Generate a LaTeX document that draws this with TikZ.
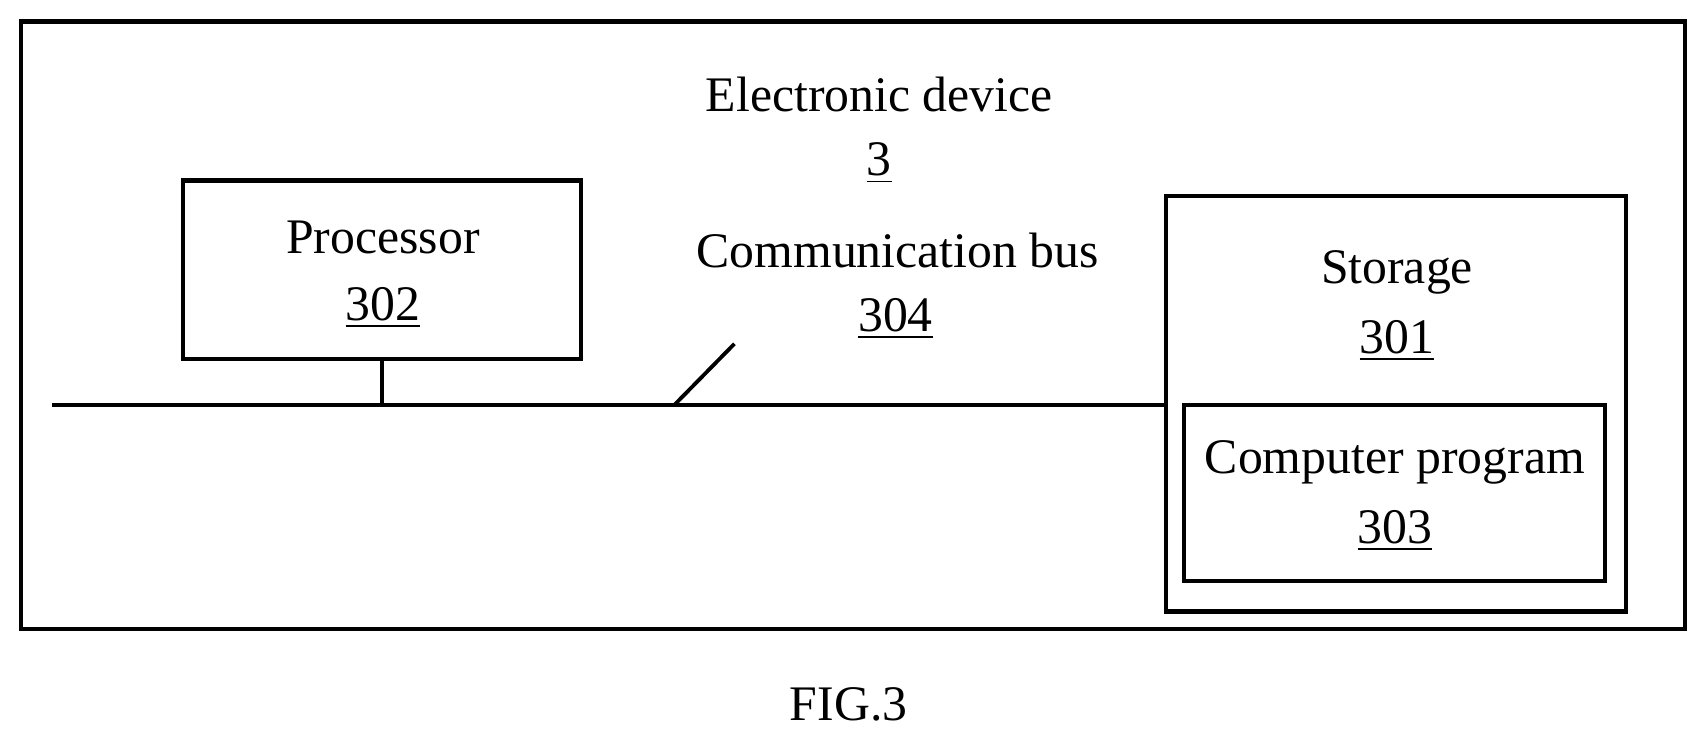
\documentclass[tikz,border=0pt]{standalone}
\usepackage{fontspec}
\setmainfont{Liberation Serif}
\begin{document}
\begin{tikzpicture}[x=0.01cm,y=-0.01cm,line width=1pt,
  lbl/.style={font=\fontsize{13}{15}\selectfont,inner sep=0pt},
  box/.style={draw,line width=1.1pt,inner sep=0pt}]
\useasboundingbox (0,0) rectangle (1568,679);
\node[box,minimum width=15.28cm,minimum height=5.58cm] (dev) at (784,299) {};
\node[box,minimum width=3.66cm,minimum height=1.64cm] (proc) at (351,248) {};
\node[lbl] (proct) at (352,218) {Processor};
\node[lbl] (procn) at (352,283) {\underline{302}};
\coordinate (busl) at (48,372);
\draw (proc.south) -- (proc.south |- busl);
\node[box,minimum width=4.22cm,minimum height=3.82cm] (stor) at (1283,371) {};
\draw (busl) -- (stor.west |- busl);
\coordinate (s1) at (620,372);
\coordinate (s2) at (675,316);
\draw (s1) -- (s2);
\node[lbl] (ed) at (808,87) {Electronic device};
\node[lbl] (edn) at (808,150) {\underline{3}};
\node[lbl] (cb) at (825,230) {Communication bus};
\node[lbl] (cbn) at (823,293) {\underline{304}};
\node[lbl] (st) at (1284,250) {Storage};
\node[lbl] (stn) at (1284,313) {\underline{301}};
\node[box,minimum width=3.87cm,minimum height=1.62cm] (prog) at (1281.5,453) {};
\node[lbl] (cp) at (1282,425) {Computer program};
\node[lbl] (cpn) at (1282,488) {\underline{303}};
\node[lbl] (fig) at (780,647) {FIG.3};
\end{tikzpicture}
\end{document}
